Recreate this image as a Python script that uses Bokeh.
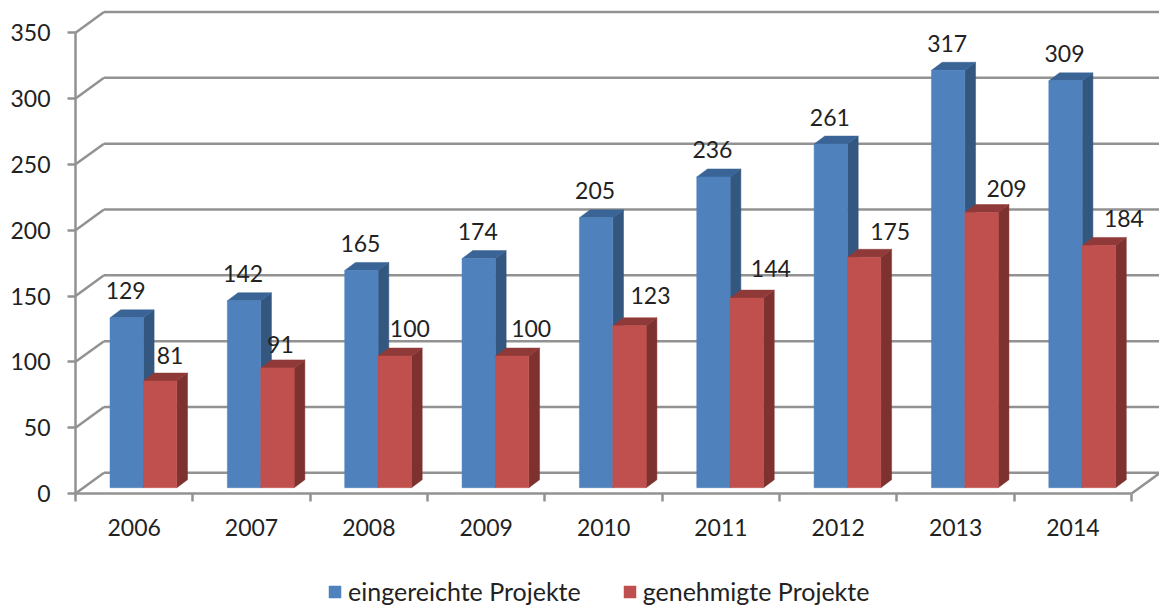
from bokeh.embed import file_html
from bokeh.resources import INLINE
from bokeh.plotting import figure
from bokeh.models import (ColumnDataSource, FixedTicker, Legend, LegendItem, Range1d)
from bokeh.core.properties import value

years = ["2006", "2007", "2008", "2009", "2010", "2011", "2012", "2013", "2014"]
eingereicht = [129, 142, 165, 174, 205, 236, 261, 317, 309]
genehmigt = [81, 91, 100, 100, 123, 144, 175, 209, 184]
y_ticks = [0, 50, 100, 150, 200, 250, 300, 350]

FONT = "Lato"
TXT = "#222222"
AXC = "#929292"
LW = 2.5
FS = "23px"

# layout: one category = 117.35 px, one value unit = 1.3166 px
PXX, PXY = 117.35, 1.3166
W, H = 1159, 606
ORG_X, ORG_Y = 75, 493               # where the axes cross, px from top-left
WX, WY = 28.5 / PXX, 20.7 / PXY      # depth of the chart box
DX, DY = 10.7 / PXX, 8.0 / PXY       # depth of a bar
BASE = 5.8 / PXY                     # bars stand a little inside the floor
BX0, BW = 34.5 / PXX, 33.4 / PXX     # first bar start, bar width

p = figure(width=W, height=H, min_border=0, output_backend="svg", toolbar_location=None,
           x_range=Range1d(-ORG_X / PXX, (W - ORG_X) / PXX),
           y_range=Range1d(-(H - ORG_Y) / PXY, ORG_Y / PXY),
           background_fill_color="white", border_fill_color="white")
p.outline_line_color = None
p.grid.visible = False

# y axis
ya = p.yaxis[0]
ya.fixed_location = 0
ya.ticker = FixedTicker(ticks=y_ticks)
ya.bounds = (0, 350)
ya.axis_line_color = AXC
ya.axis_line_width = LW
ya.major_tick_line_color = AXC
ya.major_tick_line_width = LW
ya.major_tick_in = 0
ya.major_tick_out = 8
ya.minor_tick_out = 0
ya.minor_tick_in = 0
ya.major_label_standoff = 17
ya.major_label_text_font = FONT
ya.major_label_text_font_size = FS
ya.major_label_text_color = TXT

# x axis: labels on category centres, tick marks between categories
n = len(years)
xa = p.xaxis[0]
xa.fixed_location = 0
xa.ticker = FixedTicker(ticks=[i + 0.5 for i in range(n)], minor_ticks=list(range(n + 1)))
xa.major_label_overrides = {i + 0.5: y for i, y in enumerate(years)}
xa.bounds = (0, n)
xa.axis_line_color = AXC
xa.axis_line_width = LW
xa.major_tick_in = 0
xa.major_tick_out = 0
xa.minor_tick_in = 0
xa.minor_tick_out = 8
xa.minor_tick_line_color = AXC
xa.minor_tick_line_width = LW
xa.major_label_standoff = 17
xa.major_label_text_font = FONT
xa.major_label_text_font_size = FS
xa.major_label_text_color = TXT

# walls
p.segment(x0=[0] * len(y_ticks), y0=y_ticks, x1=[WX] * len(y_ticks), y1=[v + WY for v in y_ticks],
          line_color=AXC, line_width=LW)
p.segment(x0=[WX] * len(y_ticks), y0=[v + WY for v in y_ticks], x1=[n + WX] * len(y_ticks),
          y1=[v + WY for v in y_ticks], line_color=AXC, line_width=LW)
p.segment(x0=[n], y0=[0], x1=[n + WX], y1=[WY], line_color=AXC, line_width=LW)


def bars(vals, start, front, side, top):
    lefts = [i + start for i in range(n)]
    rights = [x + BW for x in lefts]
    tops = [BASE + v for v in vals]
    p.patches(xs=[[r, r + DX, r + DX, r] for r in rights],
              ys=[[BASE, BASE + DY, t + DY, t] for t in tops],
              fill_color=side, line_color=side, line_width=0.5)
    p.patches(xs=[[l, l + DX, r + DX, r] for l, r in zip(lefts, rights)],
              ys=[[t, t + DY, t + DY, t] for t in tops],
              fill_color=top, line_color=top, line_width=0.5)
    return p.quad(left=lefts, right=rights, bottom=[BASE] * n, top=tops,
                  fill_color=front, line_color=front, line_width=0.5)


r_blue = bars(eingereicht, BX0, "#4f81bd", "#34577f", "#3a6496")
r_red = bars(genehmigt, BX0 + BW, "#c0504d", "#7e3230", "#8f3a38")

# data labels (pixel nudges from the bar's front top centre)
blue_src = ColumnDataSource(dict(x=[i + BX0 + BW / 2 for i in range(n)],
                                 y=[BASE + v for v in eingereicht],
                                 t=[str(v) for v in eingereicht]))
p.text(x="x", y="y", text="t", source=blue_src, text_align="center", text_baseline="middle",
       y_offset=-27, x_offset=-1, text_font=value(FONT), text_font_size=FS, text_color=TXT)
red_dx = [10, 3, 15, 19, 21, 24, 26, 25, 25]
red_dy = [-26, -23, -28, -28, -30, -30, -26, -24, -27]
red_src = ColumnDataSource(dict(x=[i + BX0 + BW * 1.5 for i in range(n)],
                                y=[BASE + v for v in genehmigt],
                                t=[str(v) for v in genehmigt], dx=red_dx, dy=red_dy))
p.text(x="x", y="y", text="t", source=red_src, text_align="center", text_baseline="middle",
       x_offset="dx", y_offset="dy", text_font=value(FONT), text_font_size=FS, text_color=TXT)

legend = Legend(items=[LegendItem(label="eingereichte Projekte", renderers=[r_blue]),
                       LegendItem(label="genehmigte Projekte", renderers=[r_red])],
                location=(327, 0), orientation="horizontal", background_fill_alpha=0,
                border_line_color=None, glyph_width=15, glyph_height=15, padding=0, margin=0,
                label_standoff=6, spacing=41, label_text_font=FONT, label_text_font_size="25px",
                label_text_color=TXT)
p.add_layout(legend)

open("out.html", "w").write(file_html(p, INLINE))
